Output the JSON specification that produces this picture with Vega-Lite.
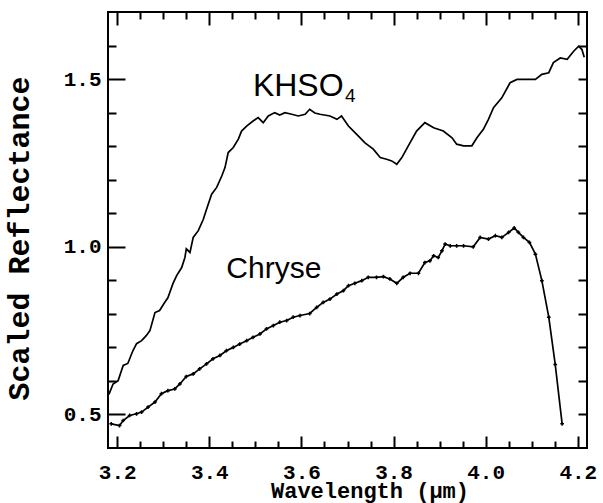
{
  "$schema": "https://vega.github.io/schema/vega-lite/v6.json",
  "width": 479,
  "height": 436,
  "autosize": {"type": "none"},
  "padding": {"left": 108, "top": 12, "right": 16, "bottom": 55},
  "background": "white",
  "config": {
    "view": {"stroke": "black", "strokeWidth": 2},
    "axis": {"domain": false, "labelFlush": false, "labelOverlap": false, "labelBound": false, "labelColor": "black", "titleColor": "black"}
  },
  "resolve": {"axis": {"x": "independent", "y": "independent"}},
  "datasets": {
    "khso4": [
      {"wavelength": 3.182, "reflectance": 0.560}, {"wavelength": 3.191, "reflectance": 0.591}, {"wavelength": 3.202, "reflectance": 0.601},
      {"wavelength": 3.213, "reflectance": 0.646}, {"wavelength": 3.223, "reflectance": 0.652}, {"wavelength": 3.234, "reflectance": 0.690},
      {"wavelength": 3.242, "reflectance": 0.711}, {"wavelength": 3.253, "reflectance": 0.720}, {"wavelength": 3.263, "reflectance": 0.735},
      {"wavelength": 3.271, "reflectance": 0.750}, {"wavelength": 3.282, "reflectance": 0.804}, {"wavelength": 3.292, "reflectance": 0.810},
      {"wavelength": 3.303, "reflectance": 0.834}, {"wavelength": 3.310, "reflectance": 0.848}, {"wavelength": 3.321, "reflectance": 0.890},
      {"wavelength": 3.329, "reflectance": 0.914}, {"wavelength": 3.340, "reflectance": 0.938}, {"wavelength": 3.347, "reflectance": 0.968},
      {"wavelength": 3.350, "reflectance": 0.994}, {"wavelength": 3.358, "reflectance": 0.983}, {"wavelength": 3.365, "reflectance": 1.028},
      {"wavelength": 3.376, "reflectance": 1.048}, {"wavelength": 3.387, "reflectance": 1.082}, {"wavelength": 3.394, "reflectance": 1.112},
      {"wavelength": 3.405, "reflectance": 1.157}, {"wavelength": 3.416, "reflectance": 1.177}, {"wavelength": 3.427, "reflectance": 1.211},
      {"wavelength": 3.434, "reflectance": 1.236}, {"wavelength": 3.441, "reflectance": 1.281}, {"wavelength": 3.452, "reflectance": 1.296},
      {"wavelength": 3.463, "reflectance": 1.321}, {"wavelength": 3.470, "reflectance": 1.345}, {"wavelength": 3.481, "reflectance": 1.360},
      {"wavelength": 3.495, "reflectance": 1.375}, {"wavelength": 3.506, "reflectance": 1.385}, {"wavelength": 3.517, "reflectance": 1.370},
      {"wavelength": 3.528, "reflectance": 1.390}, {"wavelength": 3.542, "reflectance": 1.400}, {"wavelength": 3.553, "reflectance": 1.393},
      {"wavelength": 3.564, "reflectance": 1.400}, {"wavelength": 3.579, "reflectance": 1.395}, {"wavelength": 3.593, "reflectance": 1.390},
      {"wavelength": 3.608, "reflectance": 1.395}, {"wavelength": 3.618, "reflectance": 1.410}, {"wavelength": 3.629, "reflectance": 1.399},
      {"wavelength": 3.640, "reflectance": 1.395}, {"wavelength": 3.662, "reflectance": 1.390}, {"wavelength": 3.677, "reflectance": 1.380},
      {"wavelength": 3.687, "reflectance": 1.390}, {"wavelength": 3.702, "reflectance": 1.360}, {"wavelength": 3.720, "reflectance": 1.335},
      {"wavelength": 3.738, "reflectance": 1.310}, {"wavelength": 3.756, "reflectance": 1.291}, {"wavelength": 3.771, "reflectance": 1.266},
      {"wavelength": 3.785, "reflectance": 1.261}, {"wavelength": 3.796, "reflectance": 1.256}, {"wavelength": 3.807, "reflectance": 1.246},
      {"wavelength": 3.818, "reflectance": 1.266}, {"wavelength": 3.832, "reflectance": 1.301}, {"wavelength": 3.850, "reflectance": 1.345},
      {"wavelength": 3.868, "reflectance": 1.370}, {"wavelength": 3.887, "reflectance": 1.355}, {"wavelength": 3.908, "reflectance": 1.345},
      {"wavelength": 3.927, "reflectance": 1.325}, {"wavelength": 3.937, "reflectance": 1.306}, {"wavelength": 3.952, "reflectance": 1.301},
      {"wavelength": 3.970, "reflectance": 1.301}, {"wavelength": 3.981, "reflectance": 1.325}, {"wavelength": 3.995, "reflectance": 1.350},
      {"wavelength": 4.006, "reflectance": 1.380}, {"wavelength": 4.017, "reflectance": 1.415}, {"wavelength": 4.035, "reflectance": 1.444},
      {"wavelength": 4.053, "reflectance": 1.489}, {"wavelength": 4.068, "reflectance": 1.499}, {"wavelength": 4.090, "reflectance": 1.499},
      {"wavelength": 4.108, "reflectance": 1.499}, {"wavelength": 4.122, "reflectance": 1.514}, {"wavelength": 4.137, "reflectance": 1.519},
      {"wavelength": 4.147, "reflectance": 1.549}, {"wavelength": 4.162, "reflectance": 1.563}, {"wavelength": 4.177, "reflectance": 1.559},
      {"wavelength": 4.191, "reflectance": 1.583}, {"wavelength": 4.202, "reflectance": 1.598}, {"wavelength": 4.209, "reflectance": 1.588},
      {"wavelength": 4.214, "reflectance": 1.565}
    ],
    "chryse": [
      {"wavelength": 3.187, "reflectance": 0.472}, {"wavelength": 3.205, "reflectance": 0.467}, {"wavelength": 3.213, "reflectance": 0.482},
      {"wavelength": 3.227, "reflectance": 0.497}, {"wavelength": 3.242, "reflectance": 0.502}, {"wavelength": 3.253, "reflectance": 0.507},
      {"wavelength": 3.267, "reflectance": 0.522}, {"wavelength": 3.282, "reflectance": 0.537}, {"wavelength": 3.296, "reflectance": 0.562},
      {"wavelength": 3.310, "reflectance": 0.571}, {"wavelength": 3.325, "reflectance": 0.576}, {"wavelength": 3.336, "reflectance": 0.591},
      {"wavelength": 3.350, "reflectance": 0.613}, {"wavelength": 3.365, "reflectance": 0.621}, {"wavelength": 3.379, "reflectance": 0.636},
      {"wavelength": 3.394, "reflectance": 0.651}, {"wavelength": 3.408, "reflectance": 0.666}, {"wavelength": 3.423, "reflectance": 0.676},
      {"wavelength": 3.437, "reflectance": 0.690}, {"wavelength": 3.452, "reflectance": 0.700}, {"wavelength": 3.466, "reflectance": 0.710},
      {"wavelength": 3.481, "reflectance": 0.720}, {"wavelength": 3.495, "reflectance": 0.730}, {"wavelength": 3.510, "reflectance": 0.740},
      {"wavelength": 3.524, "reflectance": 0.755}, {"wavelength": 3.539, "reflectance": 0.765}, {"wavelength": 3.553, "reflectance": 0.775},
      {"wavelength": 3.568, "reflectance": 0.780}, {"wavelength": 3.582, "reflectance": 0.790}, {"wavelength": 3.597, "reflectance": 0.795},
      {"wavelength": 3.618, "reflectance": 0.801}, {"wavelength": 3.633, "reflectance": 0.819}, {"wavelength": 3.647, "reflectance": 0.834},
      {"wavelength": 3.662, "reflectance": 0.844}, {"wavelength": 3.677, "reflectance": 0.859}, {"wavelength": 3.691, "reflectance": 0.869},
      {"wavelength": 3.702, "reflectance": 0.884}, {"wavelength": 3.716, "reflectance": 0.891}, {"wavelength": 3.731, "reflectance": 0.899},
      {"wavelength": 3.745, "reflectance": 0.909}, {"wavelength": 3.763, "reflectance": 0.909}, {"wavelength": 3.778, "reflectance": 0.911},
      {"wavelength": 3.792, "reflectance": 0.904}, {"wavelength": 3.807, "reflectance": 0.891}, {"wavelength": 3.821, "reflectance": 0.909},
      {"wavelength": 3.836, "reflectance": 0.921}, {"wavelength": 3.854, "reflectance": 0.921}, {"wavelength": 3.868, "reflectance": 0.953},
      {"wavelength": 3.879, "reflectance": 0.958}, {"wavelength": 3.887, "reflectance": 0.973}, {"wavelength": 3.897, "reflectance": 0.968},
      {"wavelength": 3.905, "reflectance": 0.988}, {"wavelength": 3.912, "reflectance": 1.008}, {"wavelength": 3.923, "reflectance": 1.003},
      {"wavelength": 3.937, "reflectance": 1.003}, {"wavelength": 3.952, "reflectance": 1.003}, {"wavelength": 3.973, "reflectance": 1.000},
      {"wavelength": 3.988, "reflectance": 1.028}, {"wavelength": 4.006, "reflectance": 1.023}, {"wavelength": 4.021, "reflectance": 1.033},
      {"wavelength": 4.035, "reflectance": 1.028}, {"wavelength": 4.050, "reflectance": 1.043}, {"wavelength": 4.062, "reflectance": 1.056},
      {"wavelength": 4.071, "reflectance": 1.043}, {"wavelength": 4.082, "reflectance": 1.028}, {"wavelength": 4.095, "reflectance": 1.013},
      {"wavelength": 4.108, "reflectance": 0.978}, {"wavelength": 4.122, "reflectance": 0.899}, {"wavelength": 4.137, "reflectance": 0.790},
      {"wavelength": 4.151, "reflectance": 0.649}, {"wavelength": 4.166, "reflectance": 0.472}
    ]
  },
  "layer": [
    {
      "data": {"name": "khso4"},
      "mark": {"type": "line", "color": "black", "strokeWidth": 1.7},
      "encoding": {
        "x": {"field": "wavelength", "type": "quantitative", "scale": {"domain": [3.18, 4.22], "nice": false, "zero": false},
          "axis": {"orient": "bottom", "values": [3.2, 3.25, 3.3, 3.35, 3.4, 3.45, 3.5, 3.55, 3.6, 3.65, 3.7, 3.75, 3.8, 3.85, 3.9, 3.95, 4.0, 4.05, 4.1, 4.15, 4.2],
            "labelExpr": "abs(datum.value * 5 - round(datum.value * 5)) < 0.001 ? format(datum.value, '.1f') : ''",
            "ticks": false,
            "grid": true, "gridColor": "black", "gridOpacity": 1, "gridWidth": 2,
            "gridDash": {"condition": {"test": "abs(datum.value * 5 - round(datum.value * 5)) < 0.001", "value": [13, 411, 12, 1000]}, "value": [7, 422, 7, 1000]},
            "labelFont": "Liberation Mono", "labelFontWeight": "bold", "labelFontSize": 21, "labelPadding": 13,
            "title": "Wavelength (μm)", "titleFont": "Liberation Mono", "titleFontWeight": "bold", "titleFontSize": 22,
            "titleX": 261.5, "titleY": 49, "titleAlign": "center", "titleBaseline": "alphabetic"}},
        "y": {"field": "reflectance", "type": "quantitative", "scale": {"domain": [0.4, 1.7], "nice": false, "zero": false},
          "axis": {"orient": "left", "values": [0.5, 0.6, 0.7, 0.8, 0.9, 1.0, 1.1, 1.2, 1.3, 1.4, 1.5, 1.6],
            "labelExpr": "abs(datum.value * 2 - round(datum.value * 2)) < 0.001 ? format(datum.value, '.1f') : ''",
            "ticks": false,
            "grid": true, "gridColor": "black", "gridOpacity": 1, "gridWidth": 2,
            "gridDash": {"condition": {"test": "abs(datum.value * 2 - round(datum.value * 2)) < 0.001", "value": [17, 453, 9, 1000]}, "value": [8, 462, 9, 1000]},
            "labelFont": "Liberation Mono", "labelFontWeight": "bold", "labelFontSize": 21, "labelPadding": 7,
            "title": "Scaled Reflectance", "titleFont": "Liberation Mono", "titleFontWeight": "bold", "titleFontSize": 30,
            "titleX": -89, "titleY": 226, "titleAngle": -90, "titleAlign": "center", "titleBaseline": "middle"}}
      }
    },
    {
      "data": {"name": "chryse"},
      "mark": {"type": "line", "color": "black", "strokeWidth": 1.7},
      "encoding": {
        "x": {"field": "wavelength", "type": "quantitative", "scale": {"domain": [3.18, 4.22], "nice": false, "zero": false}, "axis": null},
        "y": {"field": "reflectance", "type": "quantitative", "scale": {"domain": [0.4, 1.7], "nice": false, "zero": false}, "axis": null}
      }
    },
    {
      "data": {"name": "chryse"},
      "mark": {"type": "point", "shape": "cross", "filled": true, "size": 14, "color": "black", "opacity": 1},
      "encoding": {
        "x": {"field": "wavelength", "type": "quantitative", "scale": {"domain": [3.18, 4.22], "nice": false, "zero": false}, "axis": null},
        "y": {"field": "reflectance", "type": "quantitative", "scale": {"domain": [0.4, 1.7], "nice": false, "zero": false}, "axis": null}
      }
    },
    {
      "data": {"values": [{"label": "KHSO"}]},
      "mark": {"type": "text", "align": "left", "baseline": "alphabetic", "font": "Liberation Sans", "fontSize": 32, "color": "black"},
      "encoding": {
        "text": {"field": "label"},
        "x": {"datum": 3.4946, "type": "quantitative", "scale": {"domain": [3.18, 4.22], "nice": false, "zero": false}, "axis": null},
        "y": {"datum": 1.4494, "type": "quantitative", "scale": {"domain": [0.4, 1.7], "nice": false, "zero": false}, "axis": null}
      }
    },
    {
      "data": {"values": [{"label": "4"}]},
      "mark": {"type": "text", "align": "left", "baseline": "alphabetic", "font": "Liberation Sans", "fontSize": 19, "color": "black"},
      "encoding": {
        "text": {"field": "label"},
        "x": {"datum": 3.6946, "type": "quantitative", "scale": {"domain": [3.18, 4.22], "nice": false, "zero": false}, "axis": null},
        "y": {"datum": 1.4315, "type": "quantitative", "scale": {"domain": [0.4, 1.7], "nice": false, "zero": false}, "axis": null}
      }
    },
    {
      "data": {"values": [{"label": "Chryse"}]},
      "mark": {"type": "text", "align": "left", "baseline": "alphabetic", "font": "Liberation Sans", "fontSize": 30, "color": "black"},
      "encoding": {
        "text": {"field": "label"},
        "x": {"datum": 3.437, "type": "quantitative", "scale": {"domain": [3.18, 4.22], "nice": false, "zero": false}, "axis": null},
        "y": {"datum": 0.9077, "type": "quantitative", "scale": {"domain": [0.4, 1.7], "nice": false, "zero": false}, "axis": null}
      }
    }
  ]
}
